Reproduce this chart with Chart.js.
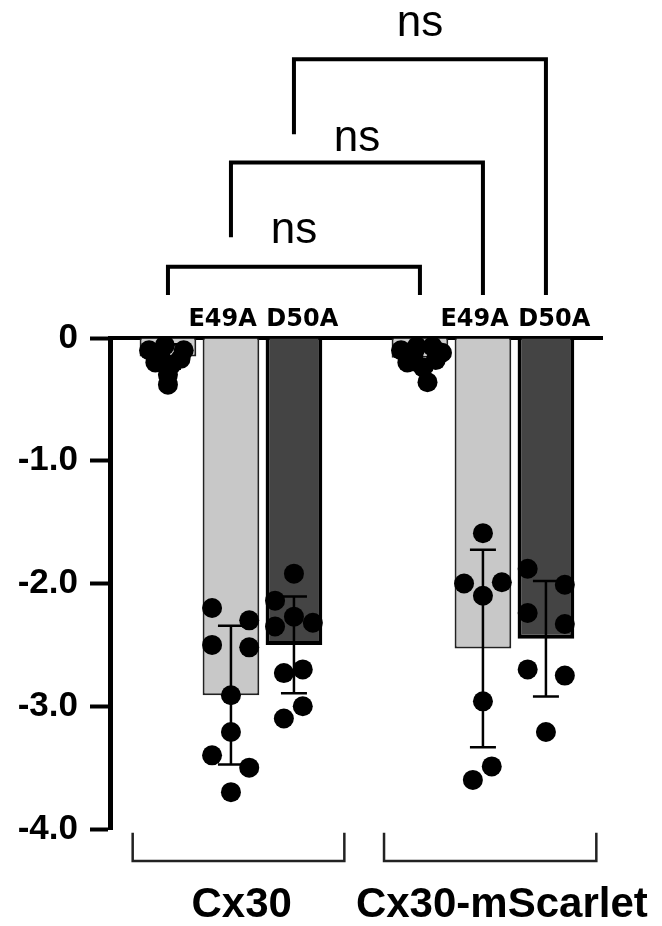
<!DOCTYPE html>
<html>
<head>
<meta charset="utf-8">
<script src="https://cdn.jsdelivr.net/npm/chart.js@4.4.0/dist/chart.umd.min.js"></script>
<style>
  html, body { margin: 0; padding: 0; background: #fff; }
  #wrap { width: 662px; height: 926px; position: relative; }
</style>
</head>
<body>
<div id="wrap"><canvas id="chart-context"></canvas></div>
<script>
"use strict";
// slots on the x scale, slot 4 is the gap between the two groups
const barSlots = [1, 2, 3, 5, 6, 7];
const barNames = ["", "E49A", "D50A", "", "E49A", "D50A"];
const barMeans = [-0.15, -2.91, -2.5, -0.16, -2.53, -2.45];
const barSD = [0.1, 0.565, 0.395, 0.1, 0.805, 0.47];

// single cells, one list per bar
const cx30WT = [-0.1, -0.06, -0.1, -0.2, -0.22, -0.17, -0.3, -0.38, -0.12];
const cx30E49A = [-2.2, -2.3, -2.5, -2.52, -2.91, -3.21, -3.4, -3.5, -3.7];
const cx30D50A = [-1.92, -2.14, -2.27, -2.35, -2.32, -2.73, -2.7, -3.0, -3.1];
const scarWT = [-0.1, -0.07, -0.07, -0.12, -0.2, -0.24, -0.36, -0.13, -0.18];
const scarE49A = [-1.59, -2.0, -1.99, -2.1, -2.96, -3.49, -3.6];
const scarD50A = [-1.88, -2.01, -2.24, -2.33, -2.7, -2.75, -3.21];
const cellGroups = [cx30WT, cx30E49A, cx30D50A, scarWT, scarE49A, scarD50A];

// horizontal scatter of the dots (x scale units)
const jitter = [
  [-0.3, -0.05, 0.25, -0.2, 0.05, 0.2, 0, 0, -0.12],
  [-0.3, 0.29, -0.3, 0.29, 0, 0, -0.3, 0.29, 0],
  [0, -0.3, 0, -0.3, 0.3, -0.16, 0.14, 0.14, -0.16],
  [-0.3, -0.05, 0.2, 0.35, -0.2, 0.05, 0.12, -0.1, 0.25],
  [0, -0.3, 0.3, 0, 0, 0.14, -0.16],
  [-0.29, 0.3, -0.29, 0.3, -0.29, 0.3, 0],
];

const yTickValues = [0, -1, -2, -3, -4];
const yTickLabels = ["0", "-1.0", "-2.0", "-3.0", "-4.0"];

const groupNames = ["Cx30", "Cx30-mScarlet"];
const comparisons = [
  { from: 1, to: 5, label: "ns" },
  { from: 2, to: 6, label: "ns" },
  { from: 3, to: 7, label: "ns" },
];

// ---- look ----
const FONT = "'Liberation Sans', Arial, sans-serif";
const barFill = ["#cfcfcf", "#c8c8c8", "#444444", "#cfcfcf", "#c8c8c8", "#444444"];
const barEdge = ["#222", "#222", "#000", "#222", "#222", "#000"];
const barEdgeW = [2, 2, 4, 2, 2, 4];
const bracketTop = [0.58, 1.43, 2.27];
const bracketLeftEnd = [0.35, 0.82, 1.66];
const bracketRightEnd = 0.35;
const nsBase = [0.77, 1.52, 2.46];
const groupSpan = [[0.44, 3.8], [4.43, 7.8]];
const groupCenter = [2.17, 6.3];

const dots = [];
cellGroups.forEach((vals, g) => {
  vals.forEach((v, i) => dots.push({ x: barSlots[g] + jitter[g][i], y: v }));
});

// the two mutant labels sit a little apart from each other
const spreadLabel = (i) => {
  const name = barNames[i];
  if (!name) return "";
  return i % 3 === 1 ? name + "  " : "  " + name;
};

const annotate = {
  id: "annotate",
  afterDatasetsDraw(chart) {
    const xs = chart.scales.x, ys = chart.scales.y, ctx = chart.ctx;
    ctx.save();
    ctx.strokeStyle = "#000";
    ctx.lineWidth = 2.5;
    barSlots.forEach((s, i) => {
      const x = xs.getPixelForValue(s);
      const hi = ys.getPixelForValue(barMeans[i] + barSD[i]);
      const lo = ys.getPixelForValue(barMeans[i] - barSD[i]);
      ctx.beginPath();
      ctx.moveTo(x, hi); ctx.lineTo(x, lo);
      ctx.moveTo(x - 13, hi); ctx.lineTo(x + 13, hi);
      ctx.moveTo(x - 13, lo); ctx.lineTo(x + 13, lo);
      ctx.stroke();
    });
    ctx.restore();
  },
  afterDraw(chart) {
    const xs = chart.scales.x, ys = chart.scales.y, ctx = chart.ctx;
    ctx.save();
    ctx.strokeStyle = "#000";
    ctx.fillStyle = "#000";
    ctx.lineWidth = 4;
    ctx.textAlign = "center";
    ctx.textBaseline = "alphabetic";
    ctx.font = "44px " + FONT;
    comparisons.forEach((c, i) => {
      const x1 = xs.getPixelForValue(c.from), x2 = xs.getPixelForValue(c.to);
      const top = ys.getPixelForValue(bracketTop[i]);
      ctx.beginPath();
      ctx.moveTo(x1, ys.getPixelForValue(bracketLeftEnd[i]));
      ctx.lineTo(x1, top);
      ctx.lineTo(x2, top);
      ctx.lineTo(x2, ys.getPixelForValue(bracketRightEnd));
      ctx.stroke();
      ctx.fillText(c.label, (x1 + x2) / 2, ys.getPixelForValue(nsBase[i]));
    });

    ctx.strokeStyle = "#222";
    ctx.lineWidth = 2.5;
    ctx.font = "bold 42px " + FONT;
    groupNames.forEach((name, i) => {
      const a = xs.getPixelForValue(groupSpan[i][0]);
      const b = xs.getPixelForValue(groupSpan[i][1]);
      const t = ys.getPixelForValue(-4.03), m = ys.getPixelForValue(-4.26);
      ctx.beginPath();
      ctx.moveTo(a, t); ctx.lineTo(a, m); ctx.lineTo(b, m); ctx.lineTo(b, t);
      ctx.stroke();
      ctx.fillText(name, xs.getPixelForValue(groupCenter[i]), ys.getPixelForValue(-4.72));
    });
    ctx.restore();
  },
};

const chartCxt = document.querySelector("#chart-context").getContext("2d");
new Chart(chartCxt, {
  type: "bar",
  data: {
    datasets: [
      {
        type: "scatter",
        data: dots,
        pointRadius: 10,
        pointBackgroundColor: "#000",
        pointBorderWidth: 0,
        order: 1,
      },
      {
        type: "bar",
        data: barSlots.map((s, i) => ({ x: s, y: barMeans[i] })),
        backgroundColor: barFill,
        borderColor: barEdge,
        borderWidth: barEdgeW,
        barPercentage: 0.9,
        categoryPercentage: 1,
        order: 2,
      },
    ],
  },
  options: {
    responsive: true,
    maintainAspectRatio: false,
    animation: false,
    events: [],
    layout: { padding: { top: 298, left: 0, right: 60, bottom: 97 } },
    plugins: { legend: { display: false }, tooltip: { enabled: false } },
    scales: {
      x: {
        type: "linear",
        position: "top",
        offset: false,
        min: 0.08,
        max: 7.89,
        z: 1,
        afterFit: (scale) => { scale.height = 40; },
        grid: { display: false, drawTicks: false, offset: false },
        border: { display: true, width: 4, color: "#000" },
        ticks: {
          stepSize: 1,
          autoSkip: false,
          maxRotation: 0,
          includeBounds: false,
          padding: 4,
          color: "#000",
          font: { family: "'DejaVu Sans', sans-serif", size: 24, weight: "bold" },
          callback: (v) => spreadLabel(barSlots.indexOf(v)),
        },
      },
      y: {
        min: -4,
        max: 0,
        afterFit: (scale) => { scale.width = 110; },
        grid: { drawOnChartArea: false, drawTicks: true, tickLength: 20, tickWidth: 4, tickColor: "#000" },
        border: { display: true, width: 5, color: "#000" },
        ticks: {
          stepSize: 1,
          padding: 12,
          color: "#000",
          font: { family: FONT, size: 35, weight: "bold" },
          callback: (v) => yTickLabels[yTickValues.indexOf(v)],
        },
      },
    },
  },
  plugins: [annotate],
});
</script>
</body>
</html>
